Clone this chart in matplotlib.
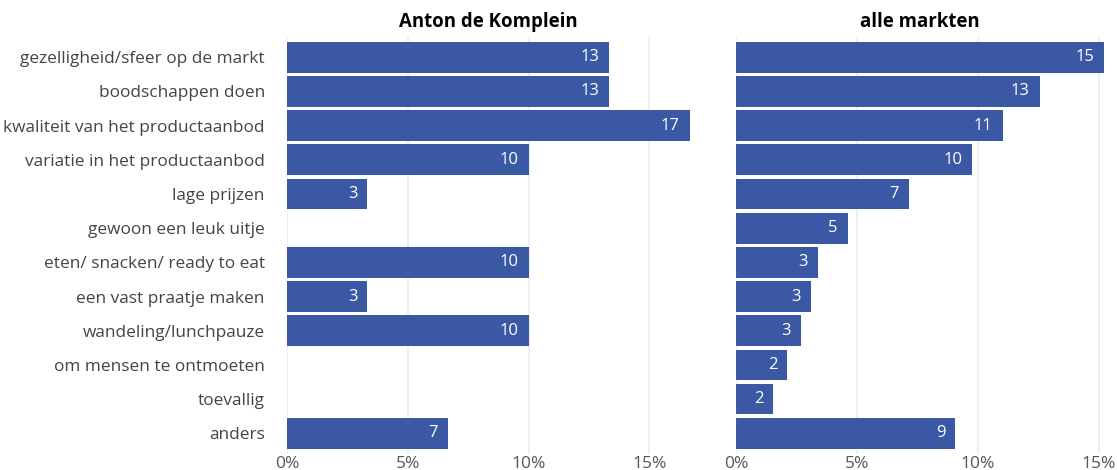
import matplotlib
matplotlib.use("Agg")
import matplotlib.pyplot as plt
from matplotlib.ticker import FuncFormatter

categories = [
    "gezelligheid/sfeer op de markt",
    "boodschappen doen",
    "kwaliteit van het productaanbod",
    "variatie in het productaanbod",
    "lage prijzen",
    "gewoon een leuk uitje",
    "eten/ snacken/ ready to eat",
    "een vast praatje maken",
    "wandeling/lunchpauze",
    "om mensen te ontmoeten",
    "toevallig",
    "anders",
]
panel_titles = ["Anton de Komplein", "alle markten"]
anton_values = [13.33, 13.33, 16.67, 10.0, 3.33, 0, 10.0, 3.33, 10.0, 0, 0, 6.67]
alle_values = [15.22, 12.56, 11.02, 9.77, 7.15, 4.61, 3.37, 3.08, 2.66, 2.11, 1.54, 9.06]
x_ticks = [0, 5, 10, 15]

plt.rcParams["font.family"] = ["Open Sans", "DejaVu Sans"]

BAR = "#3A58A3"
W, H = 1117, 470
fig = plt.figure(figsize=(W / 100, H / 100), dpi=100)

top_px, bot_px = 36.8, 453.8
left0, gap = 287, 46.5
avail = 1104 - left0 - gap
maxes = [max(anton_values), max(alle_values)]
scale = avail / sum(maxes)

x = left0
for i, (vals, title) in enumerate(zip([anton_values, alle_values], panel_titles)):
    wpx = maxes[i] * scale
    ax = fig.add_axes([x / W, 1 - bot_px / H, wpx / W, (bot_px - top_px) / H])
    x += wpx + gap
    ypos = list(range(len(categories)))
    ax.barh(ypos, vals, height=0.9, color=BAR, zorder=2)
    for yy, v in zip(ypos, vals):
        if v > 0:
            ax.annotate(f"{v:.0f}", (v, yy), xytext=(-10, 0), textcoords="offset pixels",
                        ha="right", va="center", color="white", fontsize=12, zorder=3)
    ax.set_xlim(0, maxes[i])
    ax.set_ylim(len(categories) - 0.4, -0.6)
    ax.set_xticks(x_ticks)
    ax.xaxis.set_major_formatter(FuncFormatter(lambda v, p: f"{v:.0f}%"))
    ax.grid(axis="x", color="#EBEBEB", linewidth=1.1, zorder=0)
    ax.set_axisbelow(True)
    for s in ax.spines.values():
        s.set_visible(False)
    ax.tick_params(axis="both", length=0, labelsize=12.5, labelcolor="#555555")
    ax.tick_params(axis="x", pad=1.5)
    ax.set_yticks(ypos)
    if i == 0:
        ax.set_yticklabels(categories, fontsize=12.4, color="#444444")
        ax.tick_params(axis="y", pad=16)
    else:
        ax.set_yticklabels([])
    ax.set_title(title, fontsize=13.4, fontweight="bold", color="black", pad=7)

fig.savefig("out.png", dpi=100)
